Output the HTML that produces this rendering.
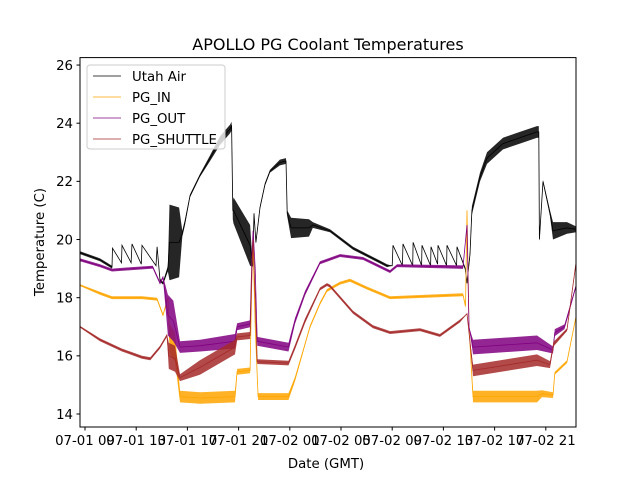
<!DOCTYPE html>
<html><head><meta charset="utf-8"><style>
body{margin:0;background:#fff;}
svg{display:block;font-family:"DejaVu Sans","Liberation Sans",sans-serif;}
</style></head><body>
<svg id="chart" width="640" height="480" xmlns="http://www.w3.org/2000/svg">
<rect width="640" height="480" fill="#fff"/>
<text x="328" y="50" text-anchor="middle" font-size="16">APOLLO PG Coolant Temperatures</text>
<g id="plot"></g>
<rect x="80" y="57.6" width="496" height="369.4" fill="none" stroke="#000" stroke-width="1"/>
<g id="xt"></g>
<g id="yt"></g>
<text x="326" y="468" text-anchor="middle" font-size="13.3">Date (GMT)</text>
<text transform="translate(44,242) rotate(-90)" text-anchor="middle" font-size="13.3">Temperature (C)</text>
<g>
<rect x="87" y="65" width="138" height="84" rx="3" fill="#fff" fill-opacity="0.8" stroke="#ccc"/>
<line x1="93" y1="76" x2="121" y2="76" stroke="#000" stroke-width="0.8"/>
<text x="132" y="81" font-size="13.3">Utah Air</text>
<line x1="93" y1="97" x2="121" y2="97" stroke="#ffa500" stroke-width="0.8"/>
<text x="132" y="102" font-size="13.3">PG_IN</text>
<line x1="93" y1="118" x2="121" y2="118" stroke="#800080" stroke-width="0.8"/>
<text x="132" y="123" font-size="13.3">PG_OUT</text>
<line x1="93" y1="139" x2="121" y2="139" stroke="#a52a2a" stroke-width="0.8"/>
<text x="132" y="144" font-size="13.3">PG_SHUTTLE</text>
</g>
</svg>
<script>
// hours since 07-01 00:00 GMT
const xTickHours = [9,13,17,21,25,29,33,37,41,45];
const xTickLabels = ["07-01 09","07-01 13","07-01 17","07-01 21","07-02 01","07-02 05","07-02 09","07-02 13","07-02 17","07-02 21"];
const yTickValues = [14,16,18,20,22,24,26];

const airTime = [8.61,10.17,11.11,11.15,11.85,11.89,12.6,12.67,13.4,13.45,14.55,14.63,14.86,15.09,15.48,15.6,16.35,16.6,16.81,17.2,17.98,18.77,19.55,20.33,20.45,20.55,20.6,21.9,22.1,22.2,22.35,22.67,23.06,23.45,24.23,24.7,24.8,25.1,26.5,26.8,28.14,29.94,32.59,33.0,33.06,33.8,33.84,34.6,34.63,35.3,35.33,36.0,36.03,36.55,36.58,37.25,37.28,38.03,38.06,38.7,38.84,39.08,39.23,39.86,40.41,41.66,42.98,44.31,44.45,44.5,44.78,45.33,45.56,46.66,47.36];
const airValue = [19.55,19.3,19.05,19.7,19.2,19.8,19.2,19.85,19.15,19.8,19.1,19.75,18.6,18.5,19.0,19.9,19.9,20.2,20.6,21.5,22.2,22.8,23.4,23.8,23.9,21.0,21.0,19.8,19.1,20.9,19.9,21.1,21.9,22.35,22.65,22.7,20.9,20.4,20.4,20.5,20.3,19.7,19.1,19.1,19.8,19.1,19.85,19.1,19.9,19.1,19.8,19.1,19.75,19.15,19.8,19.1,19.8,19.1,19.75,19.0,18.5,19.5,21.0,22.15,22.8,23.3,23.5,23.7,23.7,20.0,22.0,20.9,20.3,20.4,20.35];
const airNoise = [0.05,0.05,0.05,0,0,0,0,0,0,0,0,0,0.05,0.05,0.1,1.3,1.2,0.1,0.1,0.05,0.05,0.1,0.15,0.15,0.15,0.3,0.45,0.7,0.05,0,0.05,0.05,0.05,0.05,0.1,0.1,0.1,0.35,0.3,0.1,0.05,0.05,0.05,0,0,0,0,0,0,0,0,0,0,0,0,0,0,0,0,0.05,0.05,0.1,0.15,0.15,0.2,0.2,0.2,0.2,0.2,0.05,0.05,0.1,0.3,0.2,0.1];

const inTime = [8.61,10.17,11.11,13.45,14.63,15.09,15.48,15.6,16.03,16.42,18.0,20.72,20.88,21.9,22.05,22.13,22.3,22.52,24.9,25.41,26.19,26.58,27.36,27.91,28.92,29.7,31.03,32.83,38.53,38.73,38.84,39.0,39.31,44.31,44.7,45.56,45.7,46.66,47.36];
const inValue = [18.43,18.15,18.0,18.0,17.95,17.4,18.0,16.6,16.3,14.6,14.55,14.6,15.45,15.5,19.0,19.8,17.0,14.6,14.6,15.2,16.4,17.0,17.8,18.25,18.5,18.6,18.33,18.0,18.1,17.7,21.0,17.0,14.6,14.6,14.7,14.65,15.4,15.8,17.35];
const inNoise = [0.03,0.05,0.05,0.05,0.05,0.05,0.05,0.5,0.5,0.2,0.2,0.2,0.1,0.1,0,0,0,0.12,0.12,0.08,0.05,0.05,0.05,0.05,0.05,0.05,0.05,0.05,0.05,0.05,0,0,0.2,0.2,0.12,0.1,0.05,0.05,0.03];

const outTime = [8.61,10.17,11.11,12.67,14.3,14.86,15.09,15.48,15.9,16.42,18.0,20.72,20.88,21.9,22.05,22.13,22.3,22.45,24.9,25.41,26.19,27.36,28.92,30.72,32.83,33.38,38.53,38.84,39.0,39.31,44.31,45.56,45.7,46.46,46.66,47.36];
const outValue = [19.3,19.1,18.95,19.0,19.05,18.5,18.7,17.4,17.2,16.3,16.35,16.5,17.0,17.1,19.5,20.3,19.0,16.5,16.3,17.2,18.15,19.2,19.45,19.35,18.9,19.1,19.05,20.5,17.0,16.3,16.45,16.2,16.8,17.0,17.3,18.4];
const outNoise = [0.05,0.05,0.05,0.05,0.05,0.05,0.05,0.7,0.7,0.2,0.2,0.25,0.12,0.12,0,0,0,0.15,0.15,0.1,0.08,0.05,0.05,0.05,0.05,0.05,0.06,0,0,0.25,0.25,0.12,0.12,0.08,0.08,0.05];

const shutTime = [8.61,10.17,11.89,13.45,14.1,14.86,15.4,15.55,16.03,16.42,17.98,20.33,20.72,20.88,21.9,22.05,22.13,22.3,22.45,24.9,25.41,26.19,27.36,27.91,28.14,29.94,31.5,32.83,35.17,36.73,38.3,38.84,38.95,39.31,44.31,45.33,45.6,46.66,47.36];
const shutValue = [17.0,16.55,16.2,15.95,15.9,16.3,16.7,16.0,15.9,15.25,15.6,16.2,16.3,16.65,16.7,19.0,20.0,18.0,15.8,15.75,16.3,17.2,18.3,18.45,18.4,17.5,17.0,16.8,16.9,16.7,17.2,17.45,17.0,15.5,15.85,15.7,16.4,16.9,19.2];
const shutNoise = [0.03,0.05,0.05,0.05,0.05,0.05,0.05,0.45,0.45,0.12,0.25,0.25,0.25,0.12,0.12,0,0,0,0.08,0.08,0.08,0.08,0.05,0.05,0.05,0.05,0.05,0.05,0.05,0.05,0.05,0,0,0.2,0.2,0.12,0.08,0.05,0.03];

const NS = "http://www.w3.org/2000/svg";
const X0 = 80, X1 = 576, Y0 = 57.6, Y1 = 427;
function xScale(h){ return 85 + (h - 9) * 12.8; }
function yScale(v){ return 414 - (v - 14) * 29.08; }

const plot = document.getElementById("plot");
const clip = document.createElementNS(NS, "clipPath");
clip.setAttribute("id", "clipP");
const cr = document.createElementNS(NS, "rect");
cr.setAttribute("x", X0); cr.setAttribute("y", Y0); cr.setAttribute("width", X1 - X0); cr.setAttribute("height", Y1 - Y0);
clip.appendChild(cr);
plot.appendChild(clip);
plot.setAttribute("clip-path", "url(#clipP)");

function drawSeries(times, vals, noise, color, name){
  const band = document.createElementNS(NS, "polygon");
  let top = [], bot = [];
  for (let i = 0; i < times.length; i++){
    top.push(xScale(times[i]).toFixed(1) + "," + yScale(vals[i] + noise[i]).toFixed(1));
    bot.unshift(xScale(times[i]).toFixed(1) + "," + yScale(vals[i] - noise[i]).toFixed(1));
  }
  band.setAttribute("points", top.concat(bot).join(" "));
  band.setAttribute("fill", color);
  band.setAttribute("fill-opacity", "0.85");
  band.setAttribute("stroke", "none");
  
  
  plot.appendChild(band);
  const line = document.createElementNS(NS, "polyline");
  line.setAttribute("points", times.map((t, i) => xScale(t).toFixed(1) + "," + yScale(vals[i]).toFixed(1)).join(" "));
  line.setAttribute("fill", "none");
  line.setAttribute("stroke", color);
  line.setAttribute("stroke-width", "0.8");
  
  
  plot.appendChild(line);
}
drawSeries(airTime, airValue, airNoise, "#000000", "utah-air");
drawSeries(inTime, inValue, inNoise, "#ffa500", "pg-in");
drawSeries(outTime, outValue, outNoise, "#800080", "pg-out");
drawSeries(shutTime, shutValue, shutNoise, "#a52a2a", "pg-shuttle");

const xt = document.getElementById("xt");
xTickHours.forEach((h, i) => {
  const x = xScale(h);
  const l = document.createElementNS(NS, "line");
  l.setAttribute("x1", x); l.setAttribute("x2", x); l.setAttribute("y1", Y1); l.setAttribute("y2", Y1 + 3.5);
  l.setAttribute("stroke", "#000");
  
  
  xt.appendChild(l);
  const t = document.createElementNS(NS, "text");
  t.setAttribute("x", x); t.setAttribute("y", Y1 + 18);
  t.setAttribute("text-anchor", "middle"); t.setAttribute("font-size", "13.3");
  t.textContent = xTickLabels[i];
  
  
  xt.appendChild(t);
});
const yt = document.getElementById("yt");
yTickValues.forEach(v => {
  const y = yScale(v);
  const l = document.createElementNS(NS, "line");
  l.setAttribute("x1", X0 - 3.5); l.setAttribute("x2", X0); l.setAttribute("y1", y); l.setAttribute("y2", y);
  l.setAttribute("stroke", "#000");
  
  
  yt.appendChild(l);
  const t = document.createElementNS(NS, "text");
  t.setAttribute("x", X0 - 7); t.setAttribute("y", y + 4.8);
  t.setAttribute("text-anchor", "end"); t.setAttribute("font-size", "13.3");
  t.textContent = v;
  
  
  yt.appendChild(t);
});
</script>
</body></html>
